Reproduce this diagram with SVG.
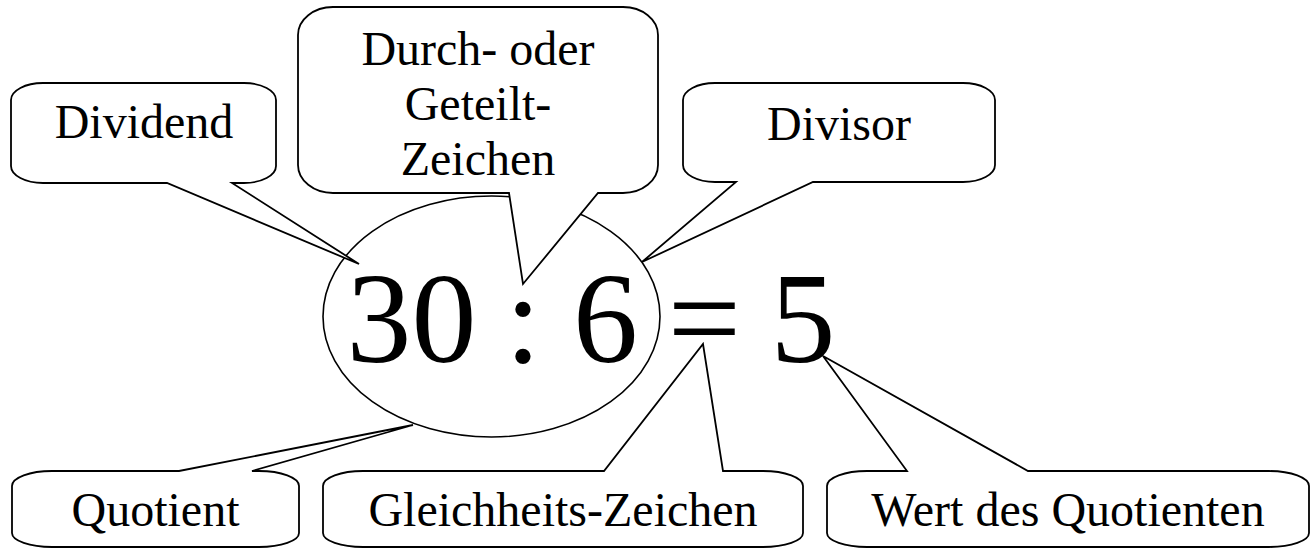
<svg xmlns="http://www.w3.org/2000/svg" width="1316" height="548" viewBox="0 0 1316 548">
<style>
.co{fill:#fff;stroke:#000;stroke-width:1.8;stroke-linejoin:miter}
.lbl{font-family:"Liberation Serif","Times New Roman",serif;font-size:48px;fill:#000;text-anchor:middle}
.eq{font-family:"Liberation Serif","Times New Roman",serif;font-size:130px;fill:#000;text-anchor:middle}
</style>
<rect width="1316" height="548" fill="#fff"/>
<g id="equation">
<ellipse cx="491.5" cy="316.5" rx="168.5" ry="120.5" fill="none" stroke="#000" stroke-width="1.6"/>
<text class="eq" x="411.5" y="362">30</text>
<text class="eq" x="523" y="362">:</text>
<text class="eq" x="605.5" y="362">6</text>
<text class="eq" x="704.5" y="362">=</text>
<text class="eq" x="803" y="362">5</text>
</g>
<g id="dividend">
<path class="co" d="M43 83H244A32 17 0 0 1 276 100V166A32 17 0 0 1 244 183H232L359 264L167 183H43A32 17 0 0 1 11 166V100A32 17 0 0 1 43 83Z"/>
<text class="lbl" x="144" y="138">Dividend</text>
</g>
<g id="zeichen">
<path class="co" d="M333 7H623A35 28 0 0 1 658 35V165A35 28 0 0 1 623 193H598L523 284L509 193H333A35 28 0 0 1 298 165V35A35 28 0 0 1 333 7Z"/>
<text class="lbl" x="478" y="65">Durch- oder</text>
<text class="lbl" x="478" y="120">Geteilt-</text>
<text class="lbl" x="478" y="175">Zeichen</text>
</g>
<g id="divisor">
<path class="co" d="M715 83H963A32 17 0 0 1 995 100V165A32 17 0 0 1 963 182H813L642 262L736 182H715A32 17 0 0 1 683 165V100A32 17 0 0 1 715 83Z"/>
<text class="lbl" x="839" y="140">Divisor</text>
</g>
<g id="quotient">
<path class="co" d="M12 486A40 15 0 0 1 52 471H179L413 425L252 471H259A40 15 0 0 1 299 486V533A40 14 0 0 1 259 547H52A40 14 0 0 1 12 533Z"/>
<text class="lbl" x="155.5" y="526">Quotient</text>
</g>
<g id="gleichheit">
<path class="co" d="M323 486A40 15 0 0 1 363 471H604L703 344L723 471H763A40 15 0 0 1 803 486V533A40 14 0 0 1 763 547H363A40 14 0 0 1 323 533Z"/>
<text class="lbl" x="563" y="526">Gleichheits-Zeichen</text>
</g>
<g id="wert">
<path class="co" d="M827 486A40 15 0 0 1 867 471H907L823 356L1028 471H1269A40 15 0 0 1 1309 486V533A40 14 0 0 1 1269 547H867A40 14 0 0 1 827 533Z"/>
<text class="lbl" x="1068" y="526">Wert des Quotienten</text>
</g>
</svg>
